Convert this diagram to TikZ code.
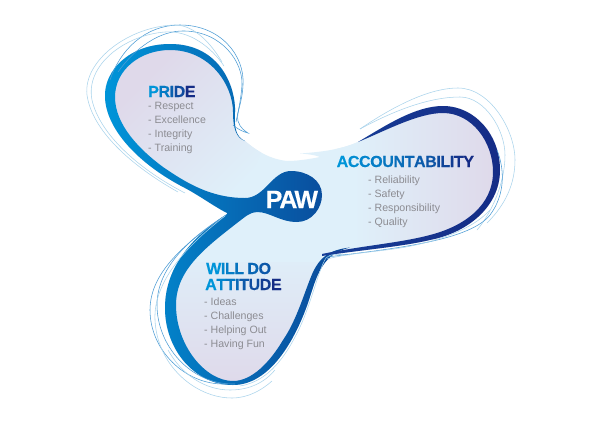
\documentclass[tikz,border=0pt]{standalone}
\usepackage{fontspec}
\setmainfont{Liberation Sans}
\definecolor{pale}{HTML}{DFF0FA}
\definecolor{lav}{HTML}{DFD9EA}
\definecolor{blueA}{HTML}{0095D9}
\definecolor{blueB}{HTML}{0072BC}
\definecolor{blueC}{HTML}{0B4596}
\definecolor{navyA}{HTML}{173F98}
\definecolor{navyB}{HTML}{152C86}
\definecolor{thinL}{HTML}{AAD4EC}
\definecolor{thinD}{HTML}{4C9CD5}
\definecolor{listgray}{HTML}{8C8C92}
\pgfdeclareverticalshading{lobeshade}{100bp}{color(0bp)=(pale); color(38bp)=(pale); color(62bp)=(lav); color(100bp)=(lav)}
\newcommand{\Lt}[2]{{\color{navyB!#1!blueA}#2}\kern-0.38pt\relax}
\newfontfamily\headfont[LetterSpace=-5,FakeBold=0.4]{Liberation Sans Bold}
\newfontfamily\pawfont[LetterSpace=-6,FakeBold=0.4]{Liberation Sans Bold}
\tikzset{
  thinlight/.style={draw=thinL,line width=0.55pt},
  thindark/.style={draw=thinD,line width=0.55pt},
  heading/.style={anchor=base west,inner sep=0pt,font=\headfont\fontsize{16}{18}\selectfont},
  listing/.style={anchor=base west,inner sep=0pt,text=listgray,font=\fontsize{10.6}{13}\selectfont},
}
\begin{document}
\begin{tikzpicture}[x=1pt,y=-1pt]
\useasboundingbox (0,0) rectangle (600,424);
\fill[white] (0,0) rectangle (600,424);
% silhouette
\path[save path=\Sil]
  (245,141) .. controls (236,137) and (234,128) .. (235,112)
  .. controls (236,90) and (222,44) .. (170,44)
  .. controls (130,44) and (104,70) .. (105,97)
  .. controls (106,130) and (140,165) .. (185,188)
  .. controls (200,196) and (215,207) .. (227,213)
  -- (227,214) .. controls (195,235) and (165,265) .. (165,308)
  .. controls (165,350) and (195,385) .. (233,385)
  .. controls (270,385) and (295,340) .. (308,303)
  .. controls (315,283) and (318,262) .. (327,257)
  -- (322,256) .. controls (360,250) and (400,247) .. (430,240)
  .. controls (470,232) and (500,205) .. (500,170)
  .. controls (500,135) and (475,106) .. (443,106)
  .. controls (415,106) and (385,126) .. (358,142)
  .. controls (340,150) and (320,152) .. (300,153.5)
  .. controls (308,154) and (315,155) .. (320,157)
  .. controls (305,160) and (295,161) .. (287,161)
  .. controls (270,159) and (258,152) .. (245,141) -- cycle;
\fill[pale,use path=\Sil];
\begin{scope}
  \clip[use path=\Sil];
  \begin{scope}
    \clip (80,20) -- (262,20) -- (262,150) -- (235,215) -- (80,215) -- cycle;
    \shade[shading=lobeshade,shading angle=45] (40,-15) rectangle (340,285);
  \end{scope}
  \begin{scope}
    \clip (335,90) -- (520,90) -- (520,260) -- (335,260) -- cycle;
    \shade[shading=lobeshade,shading angle=-90] (275,20) rectangle (575,320);
  \end{scope}
  \begin{scope}
    \clip (150,262) -- (335,262) -- (335,400) -- (150,400) -- cycle;
    \shade[shading=lobeshade,shading angle=180] (80,165) rectangle (380,465);
  \end{scope}
\end{scope}
% main band: pride, neck, PAW blob, will do
\shade[left color=blueA,middle color=blueB,right color=blueC]
  (245,141) .. controls (236,137) and (234,128) .. (235,112)
  .. controls (236,90) and (222,44) .. (170,44)
  .. controls (130,44) and (104,70) .. (105,97)
  .. controls (106,130) and (140,165) .. (185,188)
  .. controls (200,196) and (215,207) .. (227,213)
  -- (227,214) .. controls (195,235) and (165,265) .. (165,308)
  .. controls (165,350) and (195,385) .. (233,385)
  .. controls (270,385) and (295,340) .. (308,303)
  .. controls (317,275) and (322,254) .. (350,247.5)
  .. controls (328,250) and (320,258) .. (313,272)
  .. controls (305,290) and (297,320) .. (283,340)
  .. controls (270,362) and (252,381) .. (233,381)
  .. controls (205,381) and (176,345) .. (176,305)
  .. controls (176,270) and (205,248) .. (237,223)
  .. controls (245,217) and (250,212) .. (257,212)
  .. controls (270,212) and (280,222) .. (297,222)
  .. controls (312,222) and (322,208) .. (322,195)
  .. controls (322,180) and (307,171) .. (291,171)
  .. controls (272,171) and (265,198) .. (245,198)
  .. controls (210,198) and (185,182) .. (163,167)
  .. controls (140,150) and (115,125) .. (115,97)
  .. controls (115,70) and (140,50) .. (170,50)
  .. controls (210,50) and (233,85) .. (233,112)
  .. controls (233,128) and (236,138) .. (245,141) -- cycle;
% accountability band
\shade[left color=navyA,right color=navyB]
  (322,256) .. controls (360,250) and (400,247) .. (430,240)
  .. controls (470,232) and (500,205) .. (500,170)
  .. controls (500,135) and (475,106) .. (443,106)
  .. controls (415,106) and (385,126) .. (358,142)
  .. controls (385,131) and (418,113) .. (443,113)
  .. controls (472,113) and (493,142) .. (493,172)
  .. controls (493,205) and (465,226) .. (430,235)
  .. controls (400,243) and (360,246) .. (322,254) -- cycle;
% thin lines, pride
\draw[thindark] (110,80) .. controls (120,50) and (145,25) .. (180,25) .. controls (220,25) and (245,55) .. (243,85) .. controls (242,105) and (236,112) .. (238,121) .. controls (240,128) and (245,131) .. (248,133) .. controls (243,132) and (236,128) .. (233,125);
\draw[thindark] (118,72) .. controls (135,48) and (160,30) .. (185,31) .. controls (222,32) and (243,62) .. (242,85) .. controls (241,100) and (238,112) .. (236,122);
\draw[thinlight] (178,192) .. controls (130,165) and (92,130) .. (87,95) .. controls (83,60) and (130,26) .. (175,25) .. controls (195,25) and (212,45) .. (222,62);
\draw[thinlight] (185,193) .. controls (140,170) and (100,135) .. (92,100) .. controls (85,65) and (125,35) .. (165,32) .. controls (190,30) and (212,48) .. (224,66);
% thin lines, will do
\draw[thindark] (226,215) .. controls (190,240) and (150,270) .. (150,310) .. controls (150,350) and (185,385) .. (225,384);
\draw[thindark] (223,217) .. controls (195,235) and (157,265) .. (157,305) .. controls (157,345) and (190,385) .. (235,384);
\draw[thinlight] (225,216) .. controls (190,243) and (153,280) .. (155,320) .. controls (157,365) and (195,398) .. (232,398) .. controls (248,398) and (262,390) .. (272,381);
\draw[thinlight] (168,350) .. controls (182,375) and (205,390) .. (230,390) .. controls (250,390) and (265,382) .. (275,370);
\draw[thinlight] (350,255) .. controls (335,254) and (330,254) .. (326,258) .. controls (318,270) and (310,310) .. (295,337) .. controls (282,362) and (265,382) .. (240,386);
% thin lines, accountability
\draw[thinlight] (360,129) .. controls (385,112) and (425,88) .. (458,88) .. controls (490,88) and (515,130) .. (515,160) .. controls (515,190) and (500,210) .. (487,223);
\draw[thinlight] (360,129) .. controls (395,110) and (430,97) .. (460,97) .. controls (485,97) and (505,130) .. (505,155) .. controls (505,185) and (490,215) .. (477,230);
\draw[thindark] (497,150) .. controls (505,170) and (505,195) .. (490,215) .. controls (470,240) and (400,248) .. (327,257);
\draw[thinlight] (490,210) .. controls (470,232) and (430,243) .. (400,248) .. controls (375,252) and (350,253) .. (327,259);
% text
\node[heading] (pride) at (148,97) {\Lt{0}{P}\Lt{25}{R}\Lt{50}{I}\Lt{70}{D}\Lt{100}{E}};
\node[listing] (p1) at (148,109) {- Respect};
\node[listing] (p2) at (148,123) {- Excellence};
\node[listing] (p3) at (148,137) {- Integrity};
\node[listing] (p4) at (148,151) {- Training};
\node[heading] (acc) at (336.5,167) {\Lt{0}{A}\Lt{8}{C}\Lt{15}{C}\Lt{23}{O}\Lt{31}{U}\Lt{38}{N}\Lt{46}{T}\Lt{54}{A}\Lt{62}{B}\Lt{70}{I}\Lt{77}{L}\Lt{85}{I}\Lt{93}{T}\Lt{100}{Y}};
\node[listing] (a1) at (368,183) {- Reliability};
\node[listing] (a2) at (368,197) {- Safety};
\node[listing] (a3) at (368,211) {- Responsibility};
\node[listing] (a4) at (368,225) {- Quality};
\node[heading] (will) at (206,274) {\Lt{0}{W}\Lt{12}{I}\Lt{22}{L}\Lt{32}{L} \Lt{45}{D}\Lt{58}{O}};
\node[heading] (att) at (205,290) {\Lt{0}{A}\Lt{14}{T}\Lt{28}{T}\Lt{42}{I}\Lt{56}{T}\Lt{70}{U}\Lt{85}{D}\Lt{100}{E}};
\node[listing] (w1) at (204,305.5) {- Ideas};
\node[listing] (w2) at (204,319.5) {- Challenges};
\node[listing] (w3) at (204,333.5) {- Helping Out};
\node[listing] (w4) at (204,347.5) {- Having Fun};
\node[anchor=base west,inner sep=0pt,text=white,font=\pawfont\fontsize{25}{28}\selectfont] (paw) at (265.5,208) {P\kern-3pt A\kern-3pt W};
\end{tikzpicture}
\end{document}
